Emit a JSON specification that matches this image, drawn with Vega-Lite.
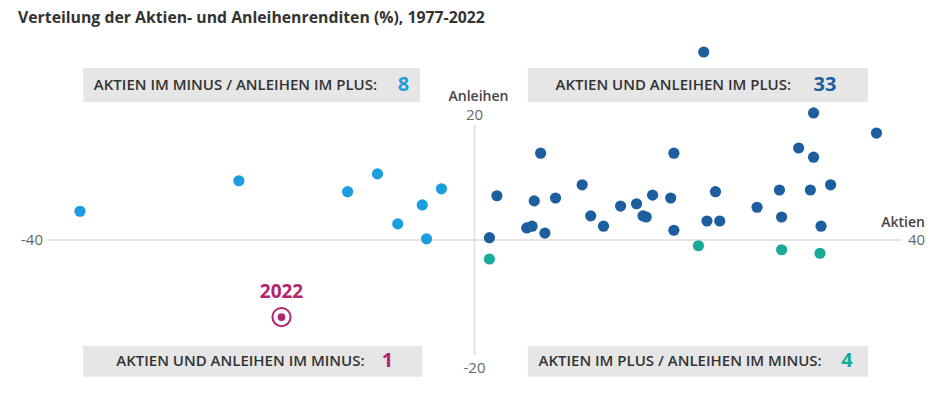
{
  "$schema": "https://vega.github.io/schema/vega-lite/v6.json",
  "width": 853,
  "height": 230,
  "autosize": {"type": "none"},
  "padding": {"left": 48, "top": 125, "right": 39, "bottom": 38},
  "background": "#ffffff",
  "config": {"view": {"stroke": null}},
  "title": {
    "text": "Verteilung der Aktien- und Anleihenrenditen (%), 1977-2022",
    "anchor": "start",
    "frame": "group",
    "dx": -30,
    "offset": 20,
    "font": "Open Sans",
    "fontSize": 15.8,
    "fontWeight": "bold",
    "color": "#333333"
  },
  "datasets": {
    "punkte": [
      {"aktien": -37.0, "anleihen": 5.0, "kategorie": "Aktien im Minus / Anleihen im Plus"},
      {"aktien": -22.1, "anleihen": 10.3, "kategorie": "Aktien im Minus / Anleihen im Plus"},
      {"aktien": -11.9, "anleihen": 8.4, "kategorie": "Aktien im Minus / Anleihen im Plus"},
      {"aktien": -9.1, "anleihen": 11.5, "kategorie": "Aktien im Minus / Anleihen im Plus"},
      {"aktien": -7.2, "anleihen": 2.8, "kategorie": "Aktien im Minus / Anleihen im Plus"},
      {"aktien": -4.9, "anleihen": 6.1, "kategorie": "Aktien im Minus / Anleihen im Plus"},
      {"aktien": -4.5, "anleihen": 0.2, "kategorie": "Aktien im Minus / Anleihen im Plus"},
      {"aktien": -3.1, "anleihen": 8.9, "kategorie": "Aktien im Minus / Anleihen im Plus"},
      {"aktien": 1.4, "anleihen": 0.4, "kategorie": "Aktien und Anleihen im Plus"},
      {"aktien": 2.1, "anleihen": 7.7, "kategorie": "Aktien und Anleihen im Plus"},
      {"aktien": 4.9, "anleihen": 2.1, "kategorie": "Aktien und Anleihen im Plus"},
      {"aktien": 5.4, "anleihen": 2.4, "kategorie": "Aktien und Anleihen im Plus"},
      {"aktien": 5.6, "anleihen": 6.8, "kategorie": "Aktien und Anleihen im Plus"},
      {"aktien": 6.2, "anleihen": 15.1, "kategorie": "Aktien und Anleihen im Plus"},
      {"aktien": 6.6, "anleihen": 1.2, "kategorie": "Aktien und Anleihen im Plus"},
      {"aktien": 7.6, "anleihen": 7.3, "kategorie": "Aktien und Anleihen im Plus"},
      {"aktien": 10.1, "anleihen": 9.6, "kategorie": "Aktien und Anleihen im Plus"},
      {"aktien": 10.9, "anleihen": 4.2, "kategorie": "Aktien und Anleihen im Plus"},
      {"aktien": 12.1, "anleihen": 2.4, "kategorie": "Aktien und Anleihen im Plus"},
      {"aktien": 13.7, "anleihen": 5.9, "kategorie": "Aktien und Anleihen im Plus"},
      {"aktien": 15.2, "anleihen": 6.3, "kategorie": "Aktien und Anleihen im Plus"},
      {"aktien": 15.8, "anleihen": 4.2, "kategorie": "Aktien und Anleihen im Plus"},
      {"aktien": 16.1, "anleihen": 4.0, "kategorie": "Aktien und Anleihen im Plus"},
      {"aktien": 16.7, "anleihen": 7.8, "kategorie": "Aktien und Anleihen im Plus"},
      {"aktien": 18.4, "anleihen": 7.3, "kategorie": "Aktien und Anleihen im Plus"},
      {"aktien": 18.7, "anleihen": 15.1, "kategorie": "Aktien und Anleihen im Plus"},
      {"aktien": 18.7, "anleihen": 1.7, "kategorie": "Aktien und Anleihen im Plus"},
      {"aktien": 21.5, "anleihen": 32.7, "kategorie": "Aktien und Anleihen im Plus"},
      {"aktien": 21.8, "anleihen": 3.3, "kategorie": "Aktien und Anleihen im Plus"},
      {"aktien": 22.6, "anleihen": 8.4, "kategorie": "Aktien und Anleihen im Plus"},
      {"aktien": 23.0, "anleihen": 3.3, "kategorie": "Aktien und Anleihen im Plus"},
      {"aktien": 26.5, "anleihen": 5.7, "kategorie": "Aktien und Anleihen im Plus"},
      {"aktien": 28.6, "anleihen": 8.7, "kategorie": "Aktien und Anleihen im Plus"},
      {"aktien": 28.8, "anleihen": 4.0, "kategorie": "Aktien und Anleihen im Plus"},
      {"aktien": 30.4, "anleihen": 16.0, "kategorie": "Aktien und Anleihen im Plus"},
      {"aktien": 31.5, "anleihen": 8.7, "kategorie": "Aktien und Anleihen im Plus"},
      {"aktien": 31.8, "anleihen": 22.1, "kategorie": "Aktien und Anleihen im Plus"},
      {"aktien": 31.8, "anleihen": 14.4, "kategorie": "Aktien und Anleihen im Plus"},
      {"aktien": 32.5, "anleihen": 2.4, "kategorie": "Aktien und Anleihen im Plus"},
      {"aktien": 33.4, "anleihen": 9.6, "kategorie": "Aktien und Anleihen im Plus"},
      {"aktien": 37.7, "anleihen": 18.6, "kategorie": "Aktien und Anleihen im Plus"},
      {"aktien": 1.4, "anleihen": -3.3, "kategorie": "Aktien im Plus / Anleihen im Minus"},
      {"aktien": 21.0, "anleihen": -1.0, "kategorie": "Aktien im Plus / Anleihen im Minus"},
      {"aktien": 28.8, "anleihen": -1.7, "kategorie": "Aktien im Plus / Anleihen im Minus"},
      {"aktien": 32.4, "anleihen": -2.3, "kategorie": "Aktien im Plus / Anleihen im Minus"}
    ],
    "jahr2022": [
      {"aktien": -18.1, "anleihen": -13.4, "jahr": "2022", "kategorie": "Aktien und Anleihen im Minus"}
    ],
    "achsen": [
      {"x1": -40, "x2": 40, "y1": 0, "y2": 0},
      {"x1": 0, "x2": 0, "y1": -20, "y2": 20}
    ],
    "kaesten": [
      {"x1": -36.7, "x2": -5.1, "y1": 29.9, "y2": 24.0},
      {"x1": 5.0, "x2": 36.9, "y1": 29.9, "y2": 24.0},
      {"x1": -36.7, "x2": -4.9, "y1": -18.4, "y2": -23.8},
      {"x1": 5.0, "x2": 36.9, "y1": -18.4, "y2": -23.8}
    ],
    "kastentexte": [
      {"x": -35.7, "y": 27.0, "text": "AKTIEN IM MINUS / ANLEIHEN IM PLUS:"},
      {"x": 7.6, "y": 27.0, "text": "AKTIEN UND ANLEIHEN IM PLUS:"},
      {"x": -33.6, "y": -21.0, "text": "AKTIEN UND ANLEIHEN IM MINUS:"},
      {"x": 6.0, "y": -21.0, "text": "AKTIEN IM PLUS / ANLEIHEN IM MINUS:"}
    ],
    "anzahlen": [
      {"x": -7.2, "y": 27.0, "anzahl": "8", "kategorie": "Aktien im Minus / Anleihen im Plus"},
      {"x": 31.8, "y": 27.0, "anzahl": "33", "kategorie": "Aktien und Anleihen im Plus"},
      {"x": -8.7, "y": -21.0, "anzahl": "1", "kategorie": "Aktien und Anleihen im Minus"},
      {"x": 34.4, "y": -21.0, "anzahl": "4", "kategorie": "Aktien im Plus / Anleihen im Minus"}
    ]
  },
  "layer": [
    {
      "data": {"name": "achsen"},
      "mark": {"type": "rule", "color": "#dcdcdc", "strokeWidth": 1.5},
      "encoding": {
        "x": {"field": "x1", "type": "quantitative", "scale": {"domain": [-40, 40], "nice": false, "zero": false}, "axis": null},
        "x2": {"field": "x2"},
        "y": {"field": "y1", "type": "quantitative", "scale": {"domain": [-20, 20], "nice": false, "zero": false}, "axis": null},
        "y2": {"field": "y2"}
      }
    },
    {
      "data": {"values": [{"x": -40, "y": 0, "t": "-40"}]},
      "mark": {"type": "text", "align": "right", "baseline": "middle", "dx": -5, "font": "Open Sans", "fontSize": 15, "color": "#666666"},
      "encoding": {"x": {"field": "x", "type": "quantitative"}, "y": {"field": "y", "type": "quantitative"}, "text": {"field": "t"}}
    },
    {
      "data": {"values": [{"x": 40, "y": 0, "t": "40"}]},
      "mark": {"type": "text", "align": "left", "baseline": "middle", "dx": 7, "font": "Open Sans", "fontSize": 15, "color": "#666666"},
      "encoding": {"x": {"field": "x", "type": "quantitative"}, "y": {"field": "y", "type": "quantitative"}, "text": {"field": "t"}}
    },
    {
      "data": {"values": [{"x": 0, "y": 20, "t": "20"}]},
      "mark": {"type": "text", "align": "center", "baseline": "middle", "dy": -10, "font": "Open Sans", "fontSize": 15, "color": "#666666"},
      "encoding": {"x": {"field": "x", "type": "quantitative"}, "y": {"field": "y", "type": "quantitative"}, "text": {"field": "t"}}
    },
    {
      "data": {"values": [{"x": 0, "y": -20, "t": "-20"}]},
      "mark": {"type": "text", "align": "center", "baseline": "middle", "dy": 13, "font": "Open Sans", "fontSize": 15, "color": "#666666"},
      "encoding": {"x": {"field": "x", "type": "quantitative"}, "y": {"field": "y", "type": "quantitative"}, "text": {"field": "t"}}
    },
    {
      "data": {"values": [{"x": 40, "y": 0, "t": "Aktien"}]},
      "mark": {"type": "text", "align": "right", "baseline": "middle", "dx": 24, "dy": -17, "font": "Open Sans", "fontSize": 14, "fontWeight": 600, "color": "#444444"},
      "encoding": {"x": {"field": "x", "type": "quantitative"}, "y": {"field": "y", "type": "quantitative"}, "text": {"field": "t"}}
    },
    {
      "data": {"values": [{"x": 0, "y": 20, "t": "Anleihen"}]},
      "mark": {"type": "text", "align": "center", "baseline": "middle", "dx": 4, "dy": -28, "font": "Open Sans", "fontSize": 14, "fontWeight": 600, "color": "#444444"},
      "encoding": {"x": {"field": "x", "type": "quantitative"}, "y": {"field": "y", "type": "quantitative"}, "text": {"field": "t"}}
    },
    {
      "data": {"name": "kaesten"},
      "mark": {"type": "rect", "color": "#e6e6e6"},
      "encoding": {
        "x": {"field": "x1", "type": "quantitative"},
        "x2": {"field": "x2"},
        "y": {"field": "y1", "type": "quantitative"},
        "y2": {"field": "y2"}
      }
    },
    {
      "data": {"name": "kastentexte"},
      "mark": {"type": "text", "align": "left", "baseline": "middle", "font": "Open Sans", "fontSize": 15, "fontWeight": 600, "color": "#333333"},
      "encoding": {"x": {"field": "x", "type": "quantitative"}, "y": {"field": "y", "type": "quantitative"}, "text": {"field": "text"}}
    },
    {
      "data": {"name": "anzahlen"},
      "mark": {"type": "text", "align": "left", "baseline": "middle", "font": "Open Sans", "fontSize": 20, "fontWeight": "bold"},
      "encoding": {
        "x": {"field": "x", "type": "quantitative"},
        "y": {"field": "y", "type": "quantitative"},
        "text": {"field": "anzahl"},
        "color": {"field": "kategorie", "type": "nominal", "legend": null,
          "scale": {"domain": ["Aktien im Minus / Anleihen im Plus", "Aktien und Anleihen im Plus", "Aktien im Plus / Anleihen im Minus", "Aktien und Anleihen im Minus"],
                    "range": ["#1b9de0", "#1c5e9e", "#1aaa9a", "#b5246f"]}}
      }
    },
    {
      "data": {"name": "punkte"},
      "mark": {"type": "circle", "size": 125, "opacity": 1},
      "encoding": {
        "x": {"field": "aktien", "type": "quantitative"},
        "y": {"field": "anleihen", "type": "quantitative"},
        "color": {"field": "kategorie", "type": "nominal", "legend": null}
      }
    },
    {
      "data": {"name": "jahr2022"},
      "mark": {"type": "point", "filled": false, "size": 330, "strokeWidth": 2, "opacity": 1, "color": "#b5246f"},
      "encoding": {
        "x": {"field": "aktien", "type": "quantitative"},
        "y": {"field": "anleihen", "type": "quantitative"}
      }
    },
    {
      "data": {"name": "jahr2022"},
      "mark": {"type": "circle", "size": 60, "opacity": 1, "color": "#b5246f"},
      "encoding": {
        "x": {"field": "aktien", "type": "quantitative"},
        "y": {"field": "anleihen", "type": "quantitative"}
      }
    },
    {
      "data": {"name": "jahr2022"},
      "mark": {"type": "text", "align": "center", "baseline": "middle", "dy": -25, "font": "Open Sans", "fontSize": 19, "fontWeight": "bold", "color": "#b5246f"},
      "encoding": {
        "x": {"field": "aktien", "type": "quantitative"},
        "y": {"field": "anleihen", "type": "quantitative"},
        "text": {"field": "jahr"}
      }
    }
  ]
}
